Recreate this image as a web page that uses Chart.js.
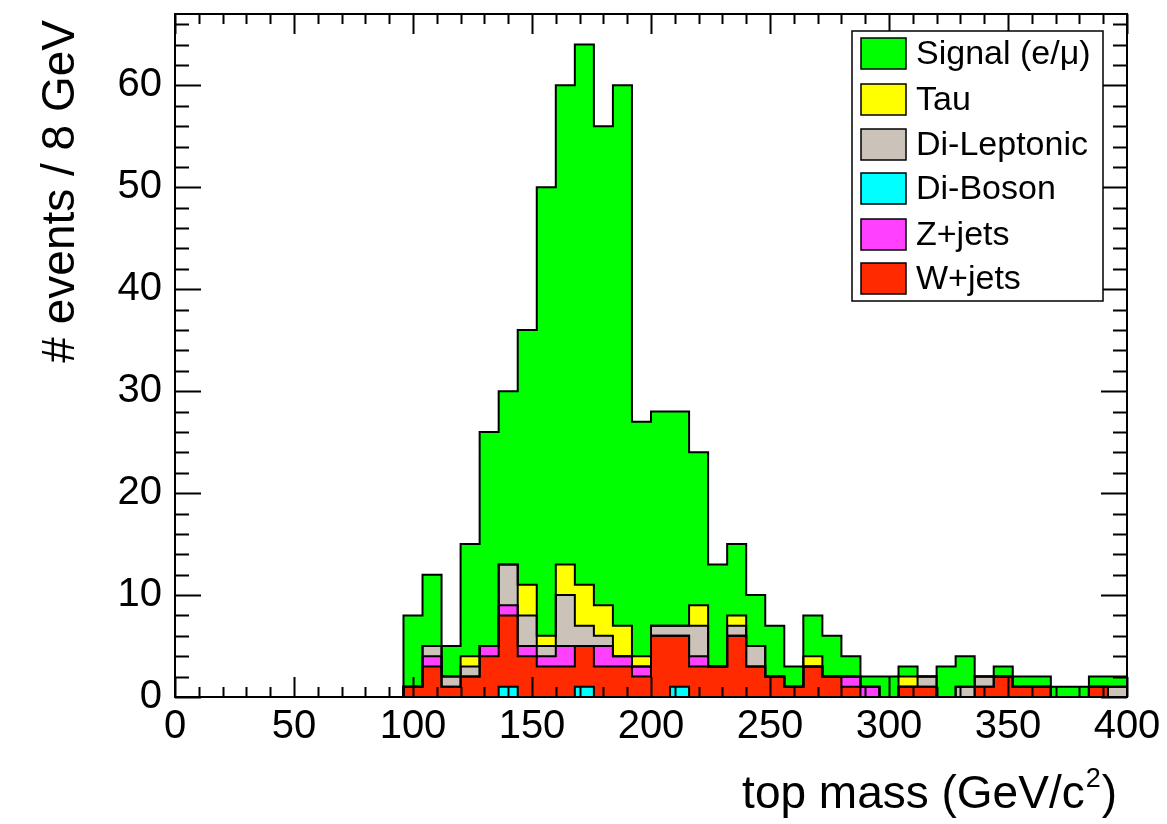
<!DOCTYPE html>
<html lang="en">
    <head>
        <meta charset="UTF-8">
        <title>Top mass - stacked backgrounds</title>
        <script src="https://cdn.jsdelivr.net/npm/chart.js"></script>
        <style>
            body { margin: 0; background: #fff; }
            .chart-container { width: 1167px; height: 824px; position: relative; }
        </style>
    </head>
    <body>
        <div class="chart-container">
            <canvas id="massChart"></canvas>
        </div>

        <script>
            // Histogram binning: 50 bins of 8 GeV from 0 to 400
            const binWidth = 8;
            const xMin = 0;
            const xMax = 400;

            // Events per bin, one array per sample (bins 0..49)
            const diBoson = [0,0,0,0,0,0,0,0,0,0, 0,0,0,0,0,0,0,1,0,0, 0,1,0,0,0,0,1,0,0,0, 0,0,0,0,0,0,0,0,0,0, 0,0,0,0,0,0,0,0,0,0];
            const wJets   = [0,0,0,0,0,0,0,0,0,0, 0,0,1,3,1,2,4,7,4,3, 3,4,3,3,2,6,5,3,3,6, 3,2,1,3,2,1,0,0,1,1, 0,0,1,2,1,1,0,0,1,0];
            const zJets   = [0,0,0,0,0,0,0,0,0,0, 0,0,0,1,0,0,1,1,1,1, 2,0,2,1,1,0,0,1,0,0, 0,0,0,0,0,1,1,0,0,0, 0,0,0,0,0,0,0,0,0,0];
            const diLepton = [0,0,0,0,0,0,0,0,0,0, 0,0,0,1,1,1,0,4,3,1, 5,2,1,0,0,1,1,3,0,1, 2,0,0,0,0,0,0,0,0,1, 0,1,1,0,0,0,0,0,0,1];
            const tau     = [0,0,0,0,0,0,0,0,0,0, 0,0,0,0,0,1,0,0,3,1, 3,4,3,3,1,0,0,2,0,1, 0,0,0,1,0,0,0,0,1,0, 0,0,0,0,0,0,0,0,0,0];
            const signal  = [0,0,0,0,0,0,0,0,0,0, 0,0,7,7,3,11,21,17,25,44, 47,53,47,53,23,21,21,15,10,7, 5,5,2,4,4,2,1,2,1,0, 3,3,0,1,1,1,1,1,1,1];

            // Axis ticks
            const xLabelStep = 50;
            const xMinorStep = 10;
            const yMax = 67;
            const yLabelStep = 10;
            const yMinorStep = 2;

            // Legend entries, top to bottom
            const legendNames = ['Signal (e/\u03bc)', 'Tau', 'Di-Leptonic', 'Di-Boson', 'Z+jets', 'W+jets'];

            const FONT = '"Liberation Sans", Arial, Helvetica, sans-serif';
            Chart.defaults.font.family = FONT;
            Chart.defaults.color = '#000';

            // bin edges; the last edge repeats the last bin so the step closes at 400
            const edges = [];
            for (let e = xMin; e <= xMax; e += binWidth) edges.push(e);

            function toSteps(values) {
                return edges.map((e, i) => ({ x: e, y: values[Math.min(i, values.length - 1)] }));
            }

            // stacked from the bottom up
            const samples = [
                { label: 'Di-Boson', values: diBoson, color: '#00ffff' },
                { label: 'W+jets', values: wJets, color: '#ff2a00' },
                { label: 'Z+jets', values: zJets, color: '#ff40ff' },
                { label: 'Di-Leptonic', values: diLepton, color: '#cbc3ba' },
                { label: 'Tau', values: tau, color: '#ffff00' },
                { label: 'Signal (e/\u03bc)', values: signal, color: '#00ff00' }
            ];

            const datasets = samples.map((s, i) => ({
                label: s.label,
                data: toSteps(s.values),
                stepped: true,
                fill: i === 0 ? 'origin' : '-1',
                backgroundColor: s.color,
                borderColor: '#000',
                borderWidth: 2,
                pointRadius: 0
            }));

            // ROOT-like frame: box, inward ticks on all sides, titles and legend
            const rootFrame = {
                id: 'rootFrame',
                afterDraw(chart) {
                    const { ctx, chartArea: a, scales: { x, y } } = chart;
                    ctx.save();
                    ctx.strokeStyle = '#000';
                    ctx.lineWidth = 2;
                    ctx.strokeRect(a.left, a.top, a.right - a.left, a.bottom - a.top);

                    ctx.beginPath();
                    for (let v = xMin; v <= xMax; v += xMinorStep) {
                        const px = Math.round(x.getPixelForValue(v)) + 0.5;
                        const len = v % xLabelStep === 0 ? 20 : 10;
                        ctx.moveTo(px, a.bottom); ctx.lineTo(px, a.bottom - len);
                        ctx.moveTo(px, a.top); ctx.lineTo(px, a.top + len);
                    }
                    for (let v = 0; v <= yMax; v += yMinorStep) {
                        const py = Math.round(y.getPixelForValue(v)) + 0.5;
                        const len = v % yLabelStep === 0 ? 26 : 14;
                        ctx.moveTo(a.left, py); ctx.lineTo(a.left + len, py);
                        ctx.moveTo(a.right, py); ctx.lineTo(a.right - len, py);
                    }
                    ctx.stroke();

                    // x title with a raised "2", right-aligned under the axis
                    ctx.fillStyle = '#000';
                    ctx.textBaseline = 'alphabetic';
                    ctx.textAlign = 'left';
                    const big = '46px ' + FONT, small = '27px ' + FONT;
                    ctx.font = big;
                    const w1 = ctx.measureText('top mass (GeV/c').width;
                    const w3 = ctx.measureText(')').width;
                    ctx.font = small;
                    const w2 = ctx.measureText('2').width;
                    let tx = 1115 - (w1 + w2 + w3);
                    ctx.font = big;
                    ctx.fillText('top mass (GeV/c', tx, 808);
                    tx += w1;
                    ctx.font = small;
                    ctx.fillText('2', tx + 1, 787);
                    tx += w2 + 2;
                    ctx.font = big;
                    ctx.fillText(')', tx, 808);

                    // y title, rotated, ending at the top of the axis
                    ctx.save();
                    ctx.textAlign = 'right';
                    ctx.translate(74, 20);
                    ctx.rotate(-Math.PI / 2);
                    ctx.fillText('# events / 8 GeV', 0, 0);
                    ctx.restore();

                    // legend box
                    const lx = 852, ly = 31, lw = 251, lh = 270;
                    ctx.fillStyle = '#fff';
                    ctx.fillRect(lx, ly, lw, lh);
                    ctx.lineWidth = 1.5;
                    ctx.strokeRect(lx, ly, lw, lh);
                    const rowY = [53, 99, 144, 188, 234, 278];
                    ctx.font = '34px ' + FONT;
                    ctx.textAlign = 'left';
                    ctx.textBaseline = 'middle';
                    legendNames.forEach((name, i) => {
                        const s = samples.find(d => d.label === name);
                        ctx.fillStyle = s.color;
                        ctx.fillRect(861, rowY[i] - 15, 45, 31);
                        ctx.lineWidth = 1.5;
                        ctx.strokeRect(861, rowY[i] - 15, 45, 31);
                        ctx.fillStyle = '#000';
                        ctx.fillText(name, 916, rowY[i] + 2);
                    });
                    ctx.restore();
                }
            };

            const ctx = document.getElementById('massChart').getContext('2d');
            new Chart(ctx, {
                type: 'line',
                data: { datasets },
                options: {
                    animation: false,
                    responsive: true,
                    maintainAspectRatio: false,
                    layout: { padding: { top: 14, right: 40, left: 0, bottom: 0 } },
                    plugins: {
                        legend: { display: false },
                        tooltip: { enabled: false },
                        filler: { drawTime: 'beforeDatasetsDraw' }
                    },
                    scales: {
                        x: {
                            type: 'linear',
                            min: xMin,
                            max: xMax,
                            offset: false,
                            grid: { display: false, drawTicks: false },
                            border: { display: false },
                            ticks: { stepSize: xLabelStep, padding: 6, maxRotation: 0, font: { size: 40 } },
                            afterFit(scale) {
                                scale.height = 127;
                                scale.paddingLeft = 0;
                                scale.paddingRight = 0;
                            }
                        },
                        y: {
                            stacked: true,
                            min: 0,
                            max: yMax,
                            grid: { display: false, drawTicks: false },
                            border: { display: false },
                            ticks: { stepSize: yLabelStep, includeBounds: false, padding: 13, font: { size: 40 } },
                            afterFit(scale) {
                                scale.width = 175;
                                scale.paddingTop = 0;
                                scale.paddingBottom = 0;
                            }
                        }
                    }
                },
                plugins: [rootFrame]
            });
        </script>
    </body>
</html>
